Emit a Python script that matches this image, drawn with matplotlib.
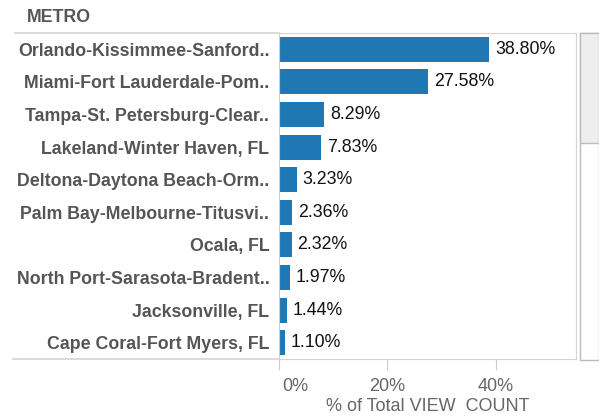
import matplotlib.pyplot as plt
import matplotlib.transforms as mtransforms
from matplotlib.patches import Rectangle
from matplotlib.lines import Line2D

metros = ['Orlando-Kissimmee-Sanford..', 'Miami-Fort Lauderdale-Pom..',
          'Tampa-St. Petersburg-Clear..', 'Lakeland-Winter Haven, FL',
          'Deltona-Daytona Beach-Orm..', 'Palm Bay-Melbourne-Titusvi..',
          'Ocala, FL', 'North Port-Sarasota-Bradent..', 'Jacksonville, FL',
          'Cape Coral-Fort Myers, FL']
share = [38.80, 27.58, 8.29, 7.83, 3.23, 2.36, 2.32, 1.97, 1.44, 1.10]
xticks = [0, 20, 40]

plt.rcParams['font.family'] = ['Liberation Sans', 'DejaVu Sans']

W, H = 599, 416
fig = plt.figure(figsize=(W / 100, H / 100), dpi=100)
ax = fig.add_axes([279 / W, 1 - 359 / H, 297 / W, 326 / H])

pos = list(range(len(metros)))
ax.barh(pos, share, height=0.77, color='#1f77b4', zorder=2)
for y, v in zip(pos, share):
    ax.text(v + 1.1, y, '%.2f%%' % v, va='center', ha='left', fontsize=12.8, color='#111111')

ax.set_ylim(len(metros) - 0.5, -0.5)
ax.set_xlim(0, 54.8)
ax.set_yticks(pos)
ax.set_yticklabels(metros, fontsize=12.8, fontweight='bold', color='#555555')
ax.tick_params(axis='y', length=0, pad=7)
ax.set_xticks(xticks)
ax.set_xticklabels(['%d%%' % t for t in xticks], fontsize=13, color='#666666')
ax.tick_params(axis='x', length=8, color='#cccccc', pad=6)
ax.set_xlabel('% of Total VIEW  COUNT', fontsize=13, color='#666666', labelpad=2)

# first tick label sits just right of the zero line
first = ax.get_xticklabels()[0]
first.set_transform(first.get_transform() + mtransforms.ScaledTranslation(16 / 100, 0, fig.dpi_scale_trans))

for s in ['top', 'bottom', 'right']:
    ax.spines[s].set_color('#d4d4d4')
ax.spines['left'].set_color('#cccccc')

# header and row-area lines
fig.text(27 / W, 1 - 18 / H, 'METRO', fontsize=12.8, fontweight='bold', color='#555555', va='center')
fig.add_artist(Line2D([15 / W, 279 / W], [1 - 33 / H] * 2, color='#d4d4d4', lw=1.2))
fig.add_artist(Line2D([13 / W, 279 / W], [1 - 359 / H] * 2, color='#d4d4d4', lw=1.2))

# scrollbar-like panel on the right
fig.add_artist(Rectangle((580 / W, 1 - 360 / H), 19 / W, 327 / H, transform=fig.transFigure,
                         facecolor='white', edgecolor='#bbbbbb', lw=1))
fig.add_artist(Rectangle((580 / W, 1 - 143 / H), 19 / W, 110 / H, transform=fig.transFigure,
                         facecolor='#eeeeee', edgecolor='#bbbbbb', lw=1))

fig.savefig('out.png', dpi=100)
